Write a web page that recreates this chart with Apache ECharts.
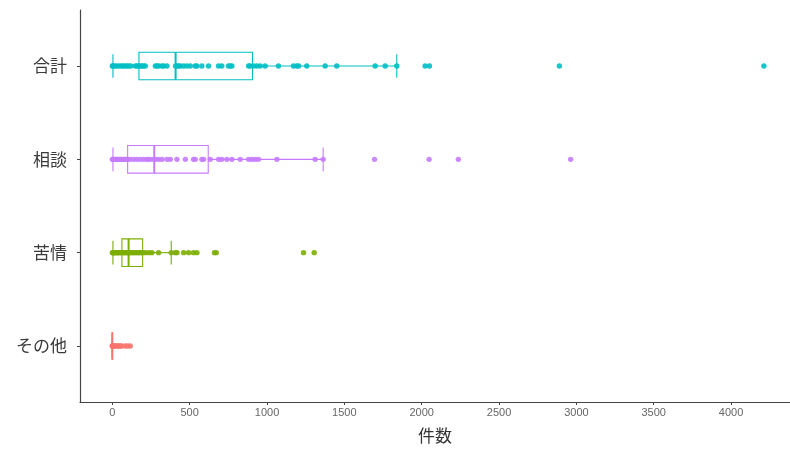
<!DOCTYPE html>
<html>
<head>
<meta charset="utf-8">
<script src="https://cdn.jsdelivr.net/npm/echarts@6/dist/echarts.min.js"></script>
<style>
  html, body { margin: 0; padding: 0; background: #fff; }
  #chart { width: 790px; height: 449px; }
</style>
</head>
<body>
<div id="chart"></div>
<script>
// Categories, bottom to top (y = 1 .. 4)
const categories = ['その他', '苦情', '相談', '合計'];
const colors = ['#F8766D', '#7CAE00', '#C77CFF', '#00BFC4'];

// Box statistics per category: [lower whisker, Q1, median, Q3, upper whisker]
const boxOther   = [0, 0, 0, 0, 0];
const boxComplaint = [4, 62, 105, 196, 381];
const boxConsult = [4, 99, 271, 620, 1363];
const boxTotal   = [4, 172, 409, 906, 1839];

// Individual counts per category
const ptsOther = [0, 0, 2, 5, 10, 18, 26, 35, 44, 52, 62, 84, 99, 116];
const ptsComplaint = [0, 4, 8, 12, 18, 24, 30, 36, 42, 50, 58, 66, 74, 82, 90, 98, 105,
  115, 125, 135, 145, 155, 165, 175, 185, 196, 213, 235, 256, 299, 381,
  407, 418, 461, 493, 525, 547, 660, 672, 1236, 1305];
const ptsConsult = [0, 5, 10, 18, 25, 33, 40, 48, 55, 62, 70, 78, 85, 92, 99, 116, 138,
  159, 181, 202, 224, 235, 256, 278, 299, 321, 353, 375, 418, 472, 525, 536, 579, 590,
  633, 687, 708, 741, 773, 827, 881, 902, 924, 945, 1064, 1311, 1363,
  1695, 2048, 2237, 2963];
const ptsTotal = [0, 4, 12, 25, 40, 55, 69, 80, 95, 105, 120, 149, 159, 170, 181, 192,
  202, 213, 278, 289, 300, 321, 332, 353, 409, 418, 428, 440, 461, 482, 504, 536, 547,
  579, 622, 687, 708, 751, 762, 773, 881, 891, 913, 934, 956, 988, 1074, 1171, 1193,
  1204, 1257, 1376, 1451, 1699, 1764, 1839, 2022, 2050, 2890, 4212];

// X axis ticks
const xTicks = [0, 500, 1000, 1500, 2000, 2500, 3000, 3500, 4000];

const boxes = [boxOther, boxComplaint, boxConsult, boxTotal];
const points = [ptsOther, ptsComplaint, ptsConsult, ptsTotal];

const BOX_HALF = 13.8;   // px
const CAP_HALF = 11.8;   // px

function boxRenderer(color) {
  return function (params, api) {
    const y = api.value(0);
    const lo = api.coord([api.value(1), y]);
    const q1 = api.coord([api.value(2), y]);
    const md = api.coord([api.value(3), y]);
    const q3 = api.coord([api.value(4), y]);
    const hi = api.coord([api.value(5), y]);
    const cy = lo[1];
    const lineStyle = { stroke: color, lineWidth: 1.1, fill: null };
    return {
      type: 'group',
      children: [
        { type: 'line', shape: { x1: lo[0], y1: cy, x2: q1[0], y2: cy }, style: lineStyle },
        { type: 'line', shape: { x1: q3[0], y1: cy, x2: hi[0], y2: cy }, style: lineStyle },
        { type: 'line', shape: { x1: lo[0], y1: cy - CAP_HALF, x2: lo[0], y2: cy + CAP_HALF }, style: lineStyle },
        { type: 'line', shape: { x1: hi[0], y1: cy - CAP_HALF, x2: hi[0], y2: cy + CAP_HALF }, style: lineStyle },
        { type: 'rect', shape: { x: q1[0], y: cy - BOX_HALF, width: q3[0] - q1[0], height: 2 * BOX_HALF },
          style: { stroke: color, lineWidth: 1.1, fill: 'rgba(255,255,255,0)' } },
        { type: 'line', shape: { x1: md[0], y1: cy - BOX_HALF, x2: md[0], y2: cy + BOX_HALF },
          style: { stroke: color, lineWidth: 2, fill: null } }
      ]
    };
  };
}

const series = [];
categories.forEach((name, i) => {
  const b = boxes[i];
  series.push({
    type: 'custom',
    name: name + '-box',
    renderItem: boxRenderer(colors[i]),
    encode: { x: [1, 2, 3, 4, 5], y: 0 },
    data: [[i + 1, b[0], b[1], b[2], b[3], b[4]]],
    silent: true,
    z: 2
  });
});
categories.forEach((name, i) => {
  series.push({
    type: 'scatter',
    name: name,
    symbolSize: 5.4,
    itemStyle: { color: colors[i], opacity: 0.9 },
    data: points[i].map(v => [v, i + 1]),
    silent: true,
    z: 3
  });
});

const chart = echarts.init(document.getElementById('chart'), null, { renderer: 'canvas' });
chart.setOption({
  backgroundColor: '#ffffff',
  animation: false,
  grid: { left: 80, top: 10, right: 0, bottom: 45, containLabel: false },
  xAxis: {
    type: 'value',
    min: -209,
    max: 4381,
    name: '件数',
    nameLocation: 'middle',
    nameGap: 25,
    nameTextStyle: { fontSize: 17, color: '#333', fontFamily: 'Noto Sans CJK JP' },
    splitLine: { show: false },
    axisLine: { show: true, onZero: false, lineStyle: { color: '#444', width: 1.2 } },
    axisTick: { show: true, length: 3, customValues: xTicks, lineStyle: { color: '#444' } },
    axisLabel: {
      customValues: xTicks,
      formatter: v => String(v),
      margin: 5,
      fontSize: 11,
      color: '#666',
      fontFamily: 'Liberation Sans, Arial, sans-serif'
    }
  },
  yAxis: {
    type: 'value',
    min: 0.4,
    max: 4.6,
    splitLine: { show: false },
    axisLine: { show: true, onZero: false, lineStyle: { color: '#444', width: 1.2 } },
    axisTick: { show: true, length: 3, customValues: [1, 2, 3, 4], lineStyle: { color: '#444' } },
    axisLabel: {
      customValues: [1, 2, 3, 4],
      formatter: v => categories[Math.round(v) - 1],
      margin: 13,
      fontSize: 17,
      color: '#3a3a3a',
      fontFamily: 'Noto Sans CJK JP'
    }
  },
  series: series
});
</script>
</body>
</html>
